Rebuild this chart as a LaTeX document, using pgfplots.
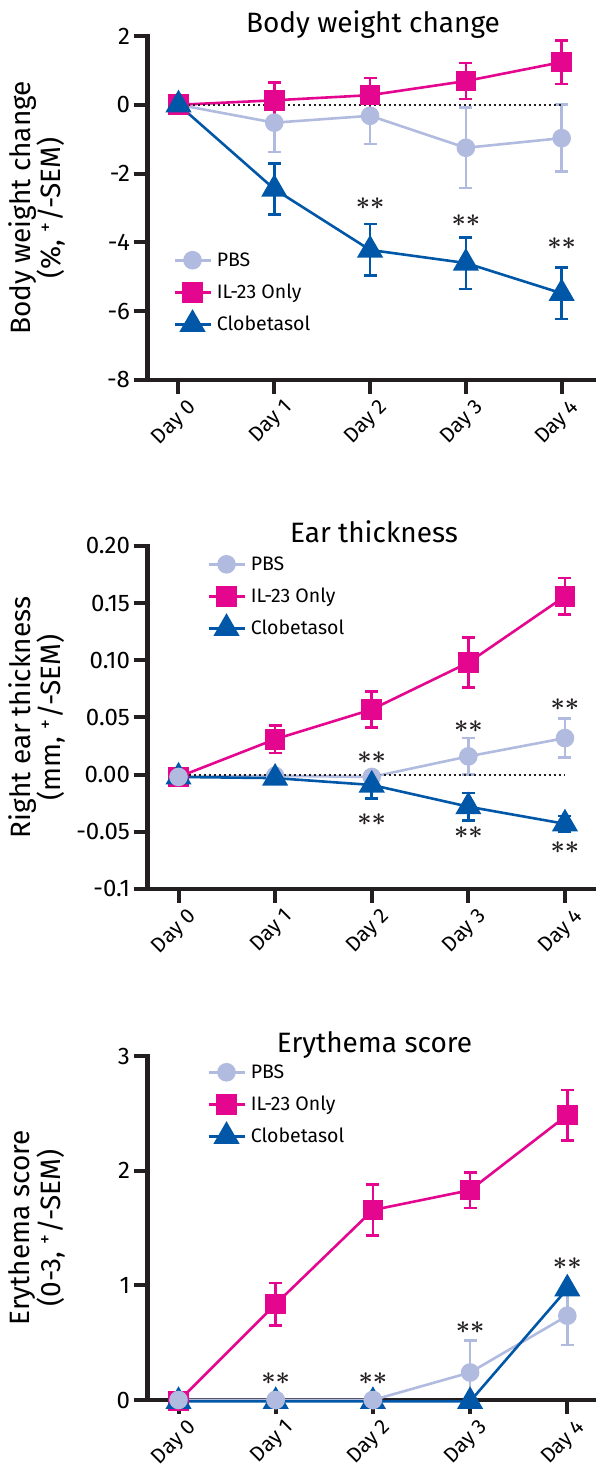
\documentclass[border=0pt]{standalone}
\usepackage{fontspec}
\setmainfont{Fira Sans}
\usepackage{pgfplots}
\pgfplotsset{compat=1.18}

\definecolor{pbs}{HTML}{B0BBDF}
\definecolor{ilc}{HTML}{E4068E}
\definecolor{clob}{HTML}{0057A8}
\definecolor{axc}{HTML}{231F20}

\newcommand\titlefont{\fontsize{28}{29}\selectfont}

\tikzset{sig/.style={font=\fontsize{24}{28}\selectfont, anchor=center, inner sep=0pt, axc}}
\newcommand\sig{{\boldmath$\ast\ast$}}

\pgfplotsset{
  panel/.style={
    scale only axis, width=447.5pt, height=344pt,
    axis x line*=bottom, axis y line*=left,
    axis line style={axc, line width=4pt, line cap=rect},
    every tick/.append style={axc, line width=4pt},
    major tick length=14pt, tick align=outside,
    xtick={0,...,4}, xticklabels={Day 0,Day 1,Day 2,Day 3,Day 4},
    x tick label style={xshift=8pt, yshift=1pt, rotate=45, anchor=north east, font=\fontsize{21}{24}\selectfont},
    y tick label style={font=\fontsize{24}{24}\selectfont},
    ylabel style={at={(axis description cs:-0.247,0.5)}, anchor=center, align=center, font=\titlefont},
    legend style={draw=none, fill=none, anchor=north west, inner sep=0pt,
      font=\fontsize{19.5}{24}\selectfont, row sep=4pt, column sep=5pt,
      nodes={inner sep=0pt, text height=20pt, text depth=8pt}},
    legend cell align=left,
    legend image code/.code={\draw[mark repeat=2,mark phase=2,##1] plot coordinates {(0pt,0pt) (18pt,0pt) (36pt,0pt)};},
    clip=false,
  },
  errs/.style={/pgfplots/error bars/y dir=both, /pgfplots/error bars/y explicit,
    /pgfplots/error bars/error bar style={line width=2.6pt},
    /pgfplots/error bars/error mark options={rotate=90, mark size=6.5pt, line width=2.6pt}},
  pbsplot/.style={pbs, line width=2.6pt, mark=*, mark size=8pt, mark options={solid}, errs},
  ilplot/.style={ilc, line width=2.6pt, mark=square*, mark size=9pt, mark options={solid}, errs},
  clobplot/.style={clob, line width=2.6pt, mark=triangle*, mark size=12.5pt, mark options={solid}, errs},
  zeroline/.style={axc, line width=2pt, dash pattern=on 2pt off 3pt, forget plot},
}

\begin{document}
\begin{tikzpicture}[x=1pt,y=1pt]

% Body weight change
\begin{axis}[panel, at={(147.5pt,1087pt)}, anchor=south west,
  xmin=-0.3236, xmax=4.348, ymin=-8, ymax=2,
  ytick={-8,-6,-4,-2,0,2}, yticklabels={-8,-6,-4,-2,0,2},
  ylabel={Body weight change\\(\%, \textsuperscript{+}/-SEM)},
  legend style={at={(rel axis cs:0.057,0.3895)}}]
\addplot[pbsplot] coordinates {(0,0) +- (0,0) (1,-0.52) +- (0,0.85) (2,-0.32) +- (0,0.82) (3,-1.25) +- (0,1.17) (4,-0.97) +- (0,0.97)};
\addplot[ilplot] coordinates {(0,0) +- (0,0) (1,0.13) +- (0,0.51) (2,0.28) +- (0,0.50) (3,0.69) +- (0,0.52) (4,1.24) +- (0,0.63)};
\addplot[clobplot] coordinates {(0,0) +- (0,0) (1,-2.45) +- (0,0.74) (2,-4.22) +- (0,0.75) (3,-4.6) +- (0,0.75) (4,-5.48) +- (0,0.75)};
\addplot[zeroline] coordinates {(0,0) (4,0)};
\legend{PBS, IL-23 Only, Clobetasol}
\node[sig] at (axis cs:2,-2.87) {\sig};
\node[sig] at (axis cs:3,-3.37) {\sig};
\node[sig] at (axis cs:4,-4.04) {\sig};
\end{axis}
\node[anchor=base, font=\titlefont] at (373,1434) {Body weight change};

% Ear thickness
\begin{axis}[panel, at={(147.5pt,578pt)}, anchor=south west, height=343pt,
  xmin=-0.321, xmax=4.311, ymin=-0.1, ymax=0.2,
  ytick={-0.1,-0.05,0,0.05,0.1,0.15,0.2}, yticklabels={-0.1,-0.05,0.00,0.05,0.10,0.15,0.20},
  ylabel={Right ear thickness\\(mm, \textsuperscript{+}/-SEM)},
  legend style={at={(rel axis cs:0.133,0.988)}}]
\addplot[pbsplot] coordinates {(0,-0.002) +- (0,0) (1,-0.001) +- (0,0) (2,-0.002) +- (0,0) (3,0.016) +- (0,0.016) (4,0.032) +- (0,0.017)};
\addplot[ilplot] coordinates {(0,-0.002) +- (0,0) (1,0.031) +- (0,0.012) (2,0.057) +- (0,0.0155) (3,0.098) +- (0,0.022) (4,0.156) +- (0,0.016)};
\addplot[clobplot] coordinates {(0,-0.002) +- (0,0) (1,-0.003) +- (0,0) (2,-0.009) +- (0,0.012) (3,-0.028) +- (0,0.012) (4,-0.043) +- (0,0.007)};
\addplot[pbsplot, forget plot, only marks] coordinates {(0,-0.002) +- (0,0)};
\addplot[zeroline] coordinates {(0,0) (4,0)};
\legend{PBS, IL-23 Only, Clobetasol}
\node[sig] at (axis cs:2,0.0146) {\sig};
\node[sig] at (axis cs:2,-0.039) {\sig};
\node[sig] at (axis cs:3,0.0417) {\sig};
\node[sig] at (axis cs:3,-0.051) {\sig};
\node[sig] at (axis cs:4,0.061) {\sig};
\node[sig] at (axis cs:4,-0.064) {\sig};
\end{axis}
\node[anchor=base, font=\titlefont] at (374,924) {Ear thickness};

% Erythema score
\begin{axis}[panel, at={(147.5pt,67pt)}, anchor=south west,
  xmin=-0.319, xmax=4.285, ymin=0, ymax=3,
  ytick={0,1,2,3}, yticklabels={0,1,2,3},
  ylabel={Erythema score\\(0-3, \textsuperscript{+}/-SEM)},
  legend style={at={(rel axis cs:0.133,0.994)}}]
\addplot[pbsplot] coordinates {(0,0) +- (0,0) (1,0) +- (0,0) (2,0) +- (0,0) (3,0.24) +- (0,0.28) (4,0.735) +- (0,0.255)};
\addplot[ilplot] coordinates {(0,-0.01) +- (0,0) (1,0.837) +- (0,0.185) (2,1.657) +- (0,0.222) (3,1.83) +- (0,0.155) (4,2.485) +- (0,0.22)};
\addplot[clobplot] coordinates {(0,-0.012) +- (0,0) (1,-0.012) +- (0,0) (2,-0.012) +- (0,0) (3,-0.012) +- (0,0) (4,0.97) +- (0,0)};
\addplot[pbsplot, forget plot, only marks] coordinates {(0,0) +- (0,0) (1,0) +- (0,0) (2,0) +- (0,0)};
\legend{PBS, IL-23 Only, Clobetasol}
\node[sig] at (axis cs:1,0.19) {\sig};
\node[sig] at (axis cs:2,0.19) {\sig};
\node[sig] at (axis cs:3,0.634) {\sig};
\node[sig] at (axis cs:4,1.19) {\sig};
\end{axis}
\node[anchor=base, font=\titlefont] at (374.5,414) {Erythema score};

% fix the page to the reference frame
\pgfresetboundingbox
\path[use as bounding box] (0,0) rectangle (595,1467);
\end{tikzpicture}
\end{document}
